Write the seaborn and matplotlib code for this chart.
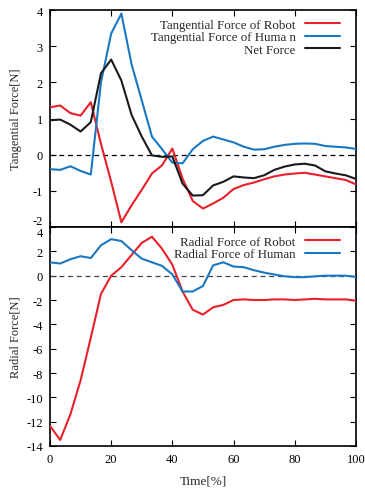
import numpy as np
import pandas as pd
import matplotlib
matplotlib.use("Agg")
import matplotlib.pyplot as plt
import seaborn as sns

# ---- data ----
time_pct = np.linspace(0, 100, 31)

tang_robot = [1.31, 1.36, 1.15, 1.08, 1.45, 0.30, -0.75, -1.87, -1.40, -0.97,
              -0.52, -0.29, 0.17, -0.66, -1.28, -1.49, -1.35, -1.19, -0.95, -0.84,
              -0.77, -0.68, -0.60, -0.55, -0.52, -0.50, -0.55, -0.60, -0.65, -0.70, -0.82]
tang_human = [-0.40, -0.42, -0.32, -0.45, -0.55, 2.00, 3.35, 3.90, 2.50, 1.50,
              0.50, 0.15, -0.22, -0.24, 0.15, 0.38, 0.50, 0.42, 0.34, 0.22,
              0.14, 0.15, 0.22, 0.27, 0.30, 0.31, 0.30, 0.24, 0.22, 0.20, 0.16]
net_force = [0.95, 0.97, 0.83, 0.64, 0.90, 2.25, 2.63, 2.05, 1.10, 0.50,
             -0.02, -0.06, -0.05, -0.80, -1.13, -1.12, -0.85, -0.75, -0.60, -0.63,
             -0.65, -0.57, -0.42, -0.33, -0.27, -0.25, -0.30, -0.46, -0.52, -0.57, -0.67]

rad_robot = [-12.35, -13.5, -11.4, -8.6, -5.1, -1.5, 0.0, 0.7, 1.7, 2.7,
             3.2, 2.2, 0.9, -1.3, -2.8, -3.2, -2.6, -2.4, -2.0, -1.95,
             -2.0, -2.0, -1.95, -1.95, -2.0, -1.95, -1.9, -1.95, -1.95, -1.95, -2.05]
rad_human = [1.1, 1.0, 1.35, 1.6, 1.45, 2.5, 3.0, 2.85, 2.1, 1.4,
             1.1, 0.8, 0.1, -1.3, -1.3, -0.85, 0.85, 1.1, 0.75, 0.7,
             0.45, 0.25, 0.1, -0.05, -0.12, -0.12, -0.05, 0.0, 0.0, 0.0, -0.1]

top_labels = ["Tangential Force of Robot", "Tangential Force of Huma n", "Net Force"]
bot_labels = ["Radial Force of Robot", "Radial Force of Human"]
top_colors = ["#e8202a", "#1a78c2", "#1a1a1a"]
bot_colors = ["#e8202a", "#1a78c2"]

top_yticks = [-2, -1, 0, 1, 2, 3, 4]
bot_yticks = [-14, -12, -10, -8, -6, -4, -2, 0, 2, 4]
xticks = [0, 20, 40, 60, 80, 100]

df_top = pd.concat([
    pd.DataFrame({"time": time_pct, "value": v, "series": name})
    for v, name in zip([tang_robot, tang_human, net_force], top_labels)
])
df_bot = pd.concat([
    pd.DataFrame({"time": time_pct, "value": v, "series": name})
    for v, name in zip([rad_robot, rad_human], bot_labels)
])

# ---- style ----
sns.set_style("ticks")
plt.rcParams["font.family"] = ["Liberation Serif", "DejaVu Serif"]
plt.rcParams["font.size"] = 9

fig = plt.figure(figsize=(3.65, 4.89), dpi=100)
ax1 = fig.add_axes([0.137, 0.5337, 0.838, 0.4438])
ax2 = fig.add_axes([0.137, 0.0859, 0.838, 0.4478])

sns.lineplot(data=df_top, x="time", y="value", hue="series", hue_order=top_labels,
             palette=top_colors, linewidth=1.5, ax=ax1, legend=False, zorder=3)
sns.lineplot(data=df_bot, x="time", y="value", hue="series", hue_order=bot_labels,
             palette=bot_colors, linewidth=1.5, ax=ax2, legend=False, zorder=3)

ax1.axhline(0, color="black", lw=0.9, ls=(0, (4, 3)), zorder=1)
ax2.axhline(0, color="#444444", lw=0.9, ls=(0, (4, 3)), zorder=1)

for ax in (ax1, ax2):
    ax.set_xlim(0, 100)
    ax.set_xticks(xticks)
    ax.tick_params(direction="in", top=True, right=True, length=4, width=0.8,
                   labelsize=9, colors="black", pad=5)
    for s in ax.spines.values():
        s.set_linewidth(1.2)
        s.set_color("black")
    ax.set_xlabel("")

ax1.set_ylim(-2, 4)
ax1.set_yticks(top_yticks)
ax1.set_yticklabels([str(t) for t in top_yticks])
ax1.tick_params(labelbottom=False)
ax1.get_yticklabels()[0].set_va("bottom")
ax1.set_ylabel("Tangential Force[N]", fontsize=9)
ax1.yaxis.set_label_coords(-0.092, 0.5)

ax2.set_ylim(-14, 4)
ax2.set_yticks(bot_yticks)
ax2.set_yticklabels([str(t) for t in bot_yticks])
ax2.get_yticklabels()[-1].set_va("top")
ax2.set_ylabel("Radial Force[N]", fontsize=9)
ax2.yaxis.set_label_coords(-0.092, 0.5)
ax2.set_xlabel("Time[%]", fontsize=9.5, labelpad=7)
ax2.set_xticklabels([str(t) for t in xticks])

# legends (text then line sample, right aligned)
h1 = ax1.get_lines()[:3]
leg1 = ax1.legend(h1, top_labels, loc="upper right", markerfirst=False, frameon=False,
                  fontsize=9.3, handlelength=2.7, handletextpad=0.75, labelspacing=0.05,
                  borderaxespad=0, borderpad=0, bbox_to_anchor=(0.948, 0.961))
h2 = ax2.get_lines()[:2]
leg2 = ax2.legend(h2, bot_labels, loc="upper right", markerfirst=False, frameon=False,
                  fontsize=9.3, handlelength=2.7, handletextpad=0.75, labelspacing=0.05,
                  borderaxespad=0, borderpad=0, bbox_to_anchor=(0.948, 0.961))

fig.savefig("out.png", dpi=100)
